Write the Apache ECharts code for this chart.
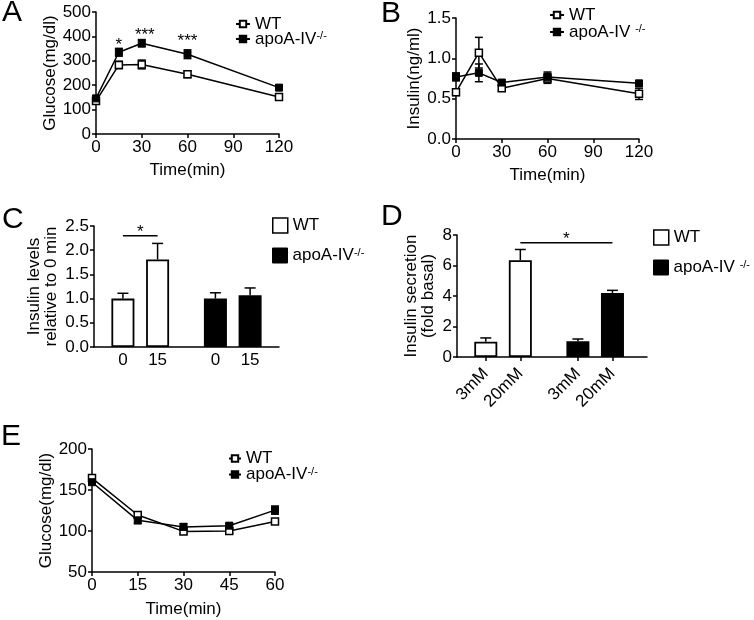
<!DOCTYPE html>
<html><head><meta charset="utf-8">
<script src="https://cdn.jsdelivr.net/npm/echarts@6/dist/echarts.min.js"></script>
<style>html,body{margin:0;padding:0;background:#fff}#c{width:754px;height:620px}</style>
</head><body><div id="c"></div>
<script>
// ---------- Panel A: glucose tolerance ----------
const timeA = [0, 15, 30, 60, 120];
const glucoseWT_A = [135, 283, 285, 245, 152];
const glucoseWT_A_sem = [8, 15, 18, 14, 8];
const glucoseKO_A = [146, 335, 372, 327, 190];
const glucoseKO_A_sem = [8, 16, 15, 18, 8];
const starsA_time = [15, 32, 60];
const starsA_text = ['*', '***', '***'];
const starsA_level = [365, 404, 381];
// ---------- Panel B: insulin ----------
const timeB = [0, 15, 30, 60, 120];
const insulinWT_B = [0.58, 1.07, 0.63, 0.75, 0.56];
const insulinWT_B_sem = [0.04, 0.19, 0.03, 0.06, 0.07];
const insulinKO_B = [0.77, 0.82, 0.70, 0.77, 0.69];
const insulinKO_B_sem = [0.05, 0.11, 0.03, 0.06, 0.03];
// ---------- Panel C: relative insulin ----------
const categoriesC = ['0', '15'];
const relInsulinWT_C = [1.0, 1.81];
const relInsulinWT_C_sem = [0.11, 0.33];
const relInsulinKO_C = [1.0, 1.07];
const relInsulinKO_C_sem = [0.12, 0.15];
const sigC_level = 2.3;
// ---------- Panel D: islet secretion ----------
const categoriesD = ['3mM', '20mM'];
const secretionWT_D = [1.0, 6.35];
const secretionWT_D_sem = [0.25, 0.7];
const secretionKO_D = [1.03, 4.2];
const secretionKO_D_sem = [0.15, 0.17];
const sigD_level = 7.5;
// ---------- Panel E: insulin tolerance ----------
const timeE = [0, 15, 30, 45, 60];
const glucoseWT_E = [164.5, 119.5, 99.5, 100, 111.5];
const glucoseWT_E_sem = [3, 3, 3, 3, 3];
const glucoseKO_E = [159.5, 113, 105, 106.5, 125.5];
const glucoseKO_E_sem = [3, 4, 4, 3, 5];

const NAME_WT = 'WT';
const NAME_KO = 'apoA-IV-/-';

// ---------- layout helpers ----------
const FONT = 'Liberation Sans, Arial, sans-serif';
const slotsC = 16, slotWT_C = [2, 5], slotKO_C = [10, 13];
const slotsD = 34, slotWT_D = [5, 11], slotKO_D = [21, 27];

function slotLabels(n, wtSlots, koSlots, cats) {
  const arr = new Array(n).fill('');
  wtSlots.forEach((s, i) => arr[s] = cats[i]);
  koSlots.forEach((s, i) => arr[s] = cats[i]);
  return arr;
}
function slotValues(n, slots, vals) {
  const arr = new Array(n).fill(null);
  slots.forEach((s, i) => arr[s] = vals[i]);
  return arr;
}
const labelsC = slotLabels(slotsC, slotWT_C, slotKO_C, categoriesC);
const labelsD = slotLabels(slotsD, slotWT_D, slotKO_D, categoriesD);

function axisBase() {
  return {
    axisLine: {show: true, onZero: false, lineStyle: {color: '#000', width: 1.5}},
    axisTick: {show: true, length: 4, lineStyle: {color: '#000', width: 1.5}},
    axisLabel: {color: '#000', fontSize: 17, fontFamily: FONT, margin: 5},
    splitLine: {show: false},
    nameTextStyle: {color: '#000', fontSize: 17, fontFamily: FONT, lineHeight: 17}
  };
}
function valX(idx, min, max, interval, name, gap) {
  return Object.assign(axisBase(), {type: 'value', gridIndex: idx, min, max, interval,
    name, nameLocation: 'middle', nameGap: gap});
}
function valY(idx, min, max, interval, name, gap, fmt) {
  const a = Object.assign(axisBase(), {type: 'value', gridIndex: idx, min, max, interval,
    name, nameLocation: 'middle', nameGap: gap});
  if (fmt) a.axisLabel.formatter = fmt;
  return a;
}
const fix1 = v => v.toFixed(1);

function lineSeries(name, idx, xs, ys, hollow) {
  return {
    type: 'line', name, xAxisIndex: idx, yAxisIndex: idx, z: 3,
    data: xs.map((x, i) => [x, ys[i]]),
    symbol: 'rect', symbolSize: 7,
    lineStyle: {color: '#000', width: 1.5},
    itemStyle: hollow ? {color: '#fff', borderColor: '#000', borderWidth: 1.5}
                      : {color: '#000', borderColor: '#000', borderWidth: 1},
    emphasis: {disabled: true}, silent: true
  };
}
function errSeries(idx, xs, ys, es, capW, upOnly, z) {
  return {
    type: 'custom', xAxisIndex: idx, yAxisIndex: idx, z: z, silent: true,
    encode: {x: 0, y: 1},
    data: xs.map((x, i) => [x, ys[i], es[i]]),
    renderItem: (params, api) => {
      const x = api.value(0), y = api.value(1), e = api.value(2);
      const pt = api.coord([x, y]), hi = api.coord([x, y + e]), lo = api.coord([x, y - e]);
      const s = {stroke: '#000', lineWidth: 1.5};
      const ch = [
        {type: 'line', shape: {x1: pt[0], y1: upOnly ? pt[1] : lo[1], x2: pt[0], y2: hi[1]}, style: s},
        {type: 'line', shape: {x1: pt[0] - capW / 2, y1: hi[1], x2: pt[0] + capW / 2, y2: hi[1]}, style: s}
      ];
      if (!upOnly) ch.push({type: 'line', shape: {x1: pt[0] - capW / 2, y1: lo[1], x2: pt[0] + capW / 2, y2: lo[1]}, style: s});
      return {type: 'group', children: ch};
    }
  };
}
function barSeries(name, idx, n, slots, vals, filled) {
  return {
    type: 'bar', name, xAxisIndex: idx, yAxisIndex: idx, barWidth: 23, barGap: '-100%',
    data: slotValues(n, slots, vals),
    itemStyle: filled ? {color: '#000', borderColor: '#000', borderWidth: 1.5}
                      : {color: '#fff', borderColor: '#000', borderWidth: 1.8},
    emphasis: {disabled: true}, silent: true
  };
}
function sigSeries(idx, fromSlot, toSlot, level) {
  return {
    type: 'custom', xAxisIndex: idx, yAxisIndex: idx, z: 5, silent: true,
    encode: {x: [0, 1], y: 2},
    data: [[fromSlot, toSlot, level]],
    renderItem: (params, api) => {
      const p1 = api.coord([api.value(0), api.value(2)]);
      const p2 = api.coord([api.value(1), api.value(2)]);
      return {type: 'group', children: [
        {type: 'line', shape: {x1: p1[0], y1: p1[1], x2: p2[0], y2: p2[1]}, style: {stroke: '#000', lineWidth: 1.5}},
        {type: 'text', x: (p1[0] + p2[0]) / 2, y: p1[1] - 3,
         style: {text: '*', fill: '#000', fontSize: 17, fontFamily: FONT, align: 'center', verticalAlign: 'middle'}}
      ]};
    }
  };
}
function starSeries(idx, xs, ys, texts) {
  return {
    type: 'custom', xAxisIndex: idx, yAxisIndex: idx, z: 5, silent: true,
    encode: {x: 0, y: 1},
    data: xs.map((x, i) => [x, ys[i]]),
    renderItem: (params, api) => {
      const p = api.coord([api.value(0), api.value(1)]);
      return {type: 'text', x: p[0], y: p[1],
        style: {text: texts[params.dataIndex], fill: '#000', fontSize: 17, fontFamily: FONT, align: 'center', verticalAlign: 'middle'}};
    }
  };
}

const richSup = {s: {fontSize: 11, fontFamily: FONT, color: '#000', verticalAlign: 'top', lineHeight: 11}};
const fmtNoSpace = n => n === NAME_KO ? 'apoA-IV{s|-/-}' : n;
const fmtSpace = n => n === NAME_KO ? 'apoA-IV {s|-/-}' : n;
function legendItem(left, top, dataItem, fmt, iw, ih) {
  return {
    left, top, padding: 0, orient: 'vertical', selectedMode: false,
    itemWidth: iw, itemHeight: ih,
    data: [dataItem], formatter: fmt,
    textStyle: {color: '#000', fontSize: 17, fontFamily: FONT, rich: richSup}
  };
}
const sqWT = {name: NAME_WT, icon: 'rect', itemStyle: {color: '#fff', borderColor: '#000', borderWidth: 1.5}};
const sqKO = {name: NAME_KO, icon: 'rect', itemStyle: {color: '#000', borderColor: '#000', borderWidth: 1}};

const option = {
  animation: false,
  backgroundColor: '#fff',
  textStyle: {fontFamily: FONT, color: '#000'},
  graphic: [
    {type: 'text', left: 2, top: -2, style: {text: 'A', fontSize: 30, fontFamily: FONT, fill: '#000'}},
    {type: 'text', left: 381, top: -1, style: {text: 'B', fontSize: 30, fontFamily: FONT, fill: '#000'}},
    {type: 'text', left: 2, top: 205, style: {text: 'C', fontSize: 30, fontFamily: FONT, fill: '#000'}},
    {type: 'text', left: 381, top: 202, style: {text: 'D', fontSize: 30, fontFamily: FONT, fill: '#000'}},
    {type: 'text', left: 1, top: 422, style: {text: 'E', fontSize: 30, fontFamily: FONT, fill: '#000'}}
  ],
  grid: [
    {left: 96, top: 12, width: 183, height: 122},
    {left: 456, top: 18, width: 183, height: 121},
    {left: 94, top: 226, width: 185, height: 121},
    {left: 457, top: 235, width: 190, height: 122},
    {left: 92, top: 449, width: 183, height: 123}
  ],
  xAxis: [
    valX(0, 0, 120, 30, 'Time(min)', 28),
    valX(1, 0, 120, 30, 'Time(min)', 28),
    Object.assign(axisBase(), {type: 'category', gridIndex: 2, data: labelsC, boundaryGap: true,
      axisTick: {show: false}}),
    Object.assign(axisBase(), {type: 'category', gridIndex: 3, data: labelsD, boundaryGap: false,
      axisTick: {show: true, length: 4, interval: (i, v) => v !== '', lineStyle: {color: '#000', width: 1.5}}}),
    valX(4, 0, 60, 15, 'Time(min)', 29)
  ],
  yAxis: [
    valY(0, 0, 500, 100, 'Glucose(mg/dl)', 37),
    valY(1, 0, 1.5, 0.5, 'Insulin(ng/ml)', 33, fix1),
    valY(2, 0, 2.5, 0.5, 'Insulin levels\nrelative to 0 min', 34, fix1),
    valY(3, 0, 8, 2, 'Insulin secretion\n(fold basal)', 20),
    valY(4, 50, 200, 50, 'Glucose(mg/dl)', 37)
  ],
  legend: [
    legendItem(235, 15.5, NAME_WT, fmtNoSpace, 14, 8),
    legendItem(235, 30.5, NAME_KO, fmtNoSpace, 14, 8),
    legendItem(549, 6.5, NAME_WT, fmtSpace, 14, 8),
    legendItem(549, 23.5, NAME_KO, fmtSpace, 14, 8),
    legendItem(272, 217, sqWT, fmtNoSpace, 15, 15),
    legendItem(272, 247, sqKO, fmtNoSpace, 15, 15),
    legendItem(653, 229, sqWT, fmtSpace, 15, 15),
    legendItem(653, 259, sqKO, fmtSpace, 15, 15),
    legendItem(228, 450, NAME_WT, fmtNoSpace, 12, 8),
    legendItem(228, 466, NAME_KO, fmtNoSpace, 12, 8)
  ],
  series: [
    // A
    lineSeries(NAME_WT, 0, timeA, glucoseWT_A, true),
    lineSeries(NAME_KO, 0, timeA, glucoseKO_A, false),
    errSeries(0, timeA, glucoseWT_A, glucoseWT_A_sem, 8, false, 2),
    errSeries(0, timeA, glucoseKO_A, glucoseKO_A_sem, 8, false, 2),
    starSeries(0, starsA_time, starsA_level, starsA_text),
    // B
    lineSeries(NAME_WT, 1, timeB, insulinWT_B, true),
    lineSeries(NAME_KO, 1, timeB, insulinKO_B, false),
    errSeries(1, timeB, insulinWT_B, insulinWT_B_sem, 8, false, 2),
    errSeries(1, timeB, insulinKO_B, insulinKO_B_sem, 8, false, 2),
    // C
    barSeries(NAME_WT, 2, slotsC, slotWT_C, relInsulinWT_C, false),
    barSeries(NAME_KO, 2, slotsC, slotKO_C, relInsulinKO_C, true),
    errSeries(2, slotWT_C, relInsulinWT_C, relInsulinWT_C_sem, 11, true, 4),
    errSeries(2, slotKO_C, relInsulinKO_C, relInsulinKO_C_sem, 11, true, 4),
    sigSeries(2, slotWT_C[0], slotWT_C[1], sigC_level),
    // D
    barSeries(NAME_WT, 3, slotsD, slotWT_D, secretionWT_D, false),
    barSeries(NAME_KO, 3, slotsD, slotKO_D, secretionKO_D, true),
    errSeries(3, slotWT_D, secretionWT_D, secretionWT_D_sem, 11, true, 4),
    errSeries(3, slotKO_D, secretionKO_D, secretionKO_D_sem, 11, true, 4),
    sigSeries(3, slotWT_D[1], slotKO_D[1], sigD_level),
    // E
    lineSeries(NAME_WT, 4, timeE, glucoseWT_E, true),
    lineSeries(NAME_KO, 4, timeE, glucoseKO_E, false),
    errSeries(4, timeE, glucoseWT_E, glucoseWT_E_sem, 8, false, 2),
    errSeries(4, timeE, glucoseKO_E, glucoseKO_E_sem, 8, false, 2)
  ]
};
// rotated labels for D
option.xAxis[3].axisLabel = Object.assign({}, option.xAxis[3].axisLabel, {interval: 0, rotate: 45, margin: 14});
option.xAxis[2].axisLabel = Object.assign({}, option.xAxis[2].axisLabel, {interval: 0});

const chart = echarts.init(document.getElementById('c'), null, {renderer: 'canvas'});
chart.setOption(option);
</script>
</body></html>
